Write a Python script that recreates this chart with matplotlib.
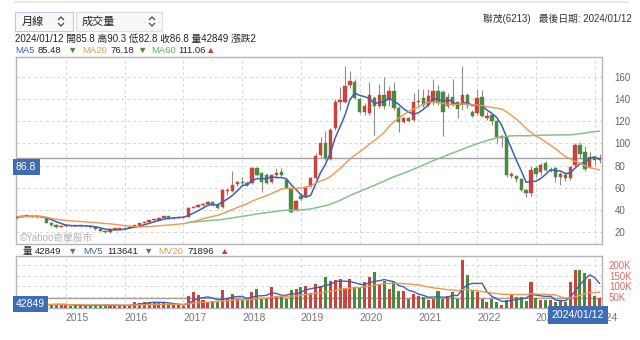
import numpy as np
import pandas as pd
import matplotlib
matplotlib.use("Agg")
import matplotlib.pyplot as plt
from matplotlib.patches import Rectangle
from matplotlib.lines import Line2D

plt.rcParams['font.family'] = ['Liberation Sans', 'Noto Sans CJK TC', 'DejaVu Sans']

W, H = 640, 340

# 聯茂(6213) monthly candles, 2014-02 .. 2024-01
years = [str(y) for y in range(2015, 2025)]
opens = [
    32.5, 34.0, 34.5, 35.0, 34.0, 34.2, 33.5, 28.5, 27.0, 25.0,
    26.0, 26.2, 26.0, 25.8, 26.0, 25.4, 24.5, 23.0, 21.5, 20.0,
    23.0, 23.3, 23.5, 24.2, 25.2, 26.8, 28.3, 29.5, 31.0, 31.3,
    33.0, 34.5, 32.5, 33.3, 33.5, 34.0, 42.0, 43.2, 44.5, 45.2,
    47.0, 45.0, 43.0, 57.5, 57.0, 63.5, 65.5, 64.5, 64.0, 77.5,
    73.0, 71.5, 65.5, 72.0, 74.5, 67.0, 59.5, 40.0, 53.0, 52.3,
    61.5, 68.5, 89.5, 100.0, 86.0, 113.5, 137.5, 137.5, 153.0, 155.0,
    140.0, 128.0, 127.5, 141.0, 134.0, 143.5, 139.0, 147.0, 132.0, 119.0,
    123.0, 121.0, 137.0, 141.0, 134.5, 137.0, 147.0, 146.0, 134.0, 141.5,
    137.0, 135.5, 144.0, 128.0, 127.0, 141.5, 122.5, 126.0, 120.0, 104.5,
    106.0, 71.0, 71.0, 68.0, 58.0, 55.0, 77.5, 74.0, 82.5, 75.5,
    78.0, 70.0, 71.5, 69.0, 80.5, 99.0, 92.0, 79.0, 87.5, 85.8,
]
highs = [
    34.5, 35.0, 36.0, 35.5, 34.8, 34.6, 34.0, 29.0, 27.5, 26.5,
    26.8, 26.8, 26.5, 26.5, 26.4, 25.8, 24.8, 23.5, 22.0, 23.5,
    23.8, 24.0, 24.5, 25.5, 27.0, 28.5, 30.0, 31.5, 31.8, 33.5,
    35.0, 35.0, 34.0, 34.0, 34.5, 42.5, 44.0, 45.5, 46.0, 48.5,
    47.8, 46.5, 59.0, 59.5, 75.0, 66.5, 69.5, 66.0, 78.5, 79.0,
    74.0, 73.0, 72.5, 77.5, 77.5, 68.5, 60.0, 49.5, 55.0, 61.0,
    70.0, 91.0, 106.0, 111.0, 114.0, 140.0, 150.5, 170.0, 165.5, 158.0,
    141.0, 136.0, 155.0, 143.0, 153.5, 160.0, 152.0, 155.0, 134.0, 124.0,
    124.0, 145.0, 149.0, 149.0, 149.0, 158.0, 153.0, 148.0, 145.0, 158.0,
    138.0, 170.0, 145.0, 130.0, 149.0, 148.0, 128.0, 127.0, 121.0, 108.0,
    107.0, 74.0, 72.0, 69.0, 59.0, 80.0, 80.0, 82.5, 84.0, 79.0,
    79.0, 74.0, 74.0, 80.0, 100.0, 101.0, 98.0, 92.0, 89.0, 90.3,
]
lows = [
    32.0, 33.5, 34.0, 33.5, 33.0, 33.0, 28.0, 26.0, 24.0, 24.5,
    25.0, 25.5, 25.3, 25.2, 25.0, 24.0, 22.5, 21.0, 19.0, 19.5,
    22.5, 22.8, 23.0, 23.8, 25.0, 26.5, 28.0, 29.0, 30.2, 31.0,
    32.5, 32.3, 32.0, 32.8, 33.0, 33.8, 41.5, 42.8, 43.8, 44.8,
    43.5, 41.0, 42.0, 53.5, 56.0, 62.0, 63.0, 61.5, 63.5, 70.5,
    56.0, 63.5, 64.0, 70.0, 70.5, 59.0, 37.5, 39.0, 49.0, 51.5,
    60.5, 68.0, 88.0, 85.0, 85.0, 112.0, 130.0, 136.0, 150.0, 140.0,
    127.0, 126.0, 126.0, 108.0, 132.0, 131.0, 134.0, 130.0, 110.0, 118.0,
    119.5, 120.0, 134.0, 133.0, 133.0, 135.0, 135.0, 107.0, 132.0, 134.0,
    123.0, 130.0, 132.0, 124.0, 126.0, 124.0, 121.0, 117.0, 100.0, 97.0,
    70.0, 69.0, 65.0, 57.0, 52.0, 53.0, 70.0, 72.0, 75.0, 74.0,
    65.0, 63.0, 66.0, 67.0, 79.0, 86.0, 75.0, 78.0, 80.5, 82.8,
]
closes = [
    34.0, 34.5, 35.0, 34.0, 34.2, 33.5, 28.5, 27.0, 25.0, 26.0,
    26.2, 26.0, 25.8, 26.0, 25.4, 24.5, 23.0, 21.5, 20.0, 23.0,
    23.3, 23.5, 24.2, 25.2, 26.8, 28.3, 29.5, 31.0, 31.3, 33.0,
    34.5, 32.5, 33.3, 33.5, 34.0, 42.0, 43.2, 44.5, 45.2, 47.5,
    44.5, 41.8, 58.0, 58.5, 63.0, 65.5, 64.5, 62.5, 77.5, 71.5,
    65.5, 64.5, 71.5, 73.0, 72.0, 60.0, 38.5, 48.5, 50.0, 60.7,
    69.0, 89.0, 100.0, 86.5, 112.0, 137.5, 139.5, 151.5, 156.0, 141.0,
    128.5, 133.5, 143.5, 134.0, 144.0, 134.0, 147.0, 132.0, 119.0, 123.0,
    120.5, 137.0, 138.5, 134.5, 143.0, 147.5, 136.0, 128.0, 141.5, 135.0,
    131.0, 144.0, 134.5, 125.0, 141.0, 125.0, 124.5, 120.0, 106.0, 107.0,
    71.5, 72.5, 68.0, 58.0, 55.0, 76.0, 72.5, 81.0, 76.5, 76.5,
    70.0, 72.5, 68.7, 79.0, 98.5, 90.5, 77.3, 88.0, 84.8, 86.8,
]
# monthly volume, thousand lots
volumes = [
    12, 14, 16, 11, 13, 10, 18, 15, 17, 12,
    10, 9, 11, 8, 9, 10, 12, 11, 13, 9,
    8, 9, 10, 12, 25, 22, 24, 26, 27, 23,
    20, 12, 10, 11, 9, 56, 73, 61, 33, 25,
    30, 30, 84, 38, 64, 41, 34, 35, 72, 89,
    45, 45, 96, 53, 50, 42, 84, 89, 95, 103,
    69, 110, 100, 141, 123, 127, 134, 92, 134, 95,
    95, 118, 141, 166, 107, 126, 89, 118, 76, 76,
    42, 64, 56, 48, 33, 42, 76, 42, 53, 72,
    38, 223, 151, 81, 72, 42, 25, 41, 25, 14,
    35, 57.72, 50, 48, 30, 118, 45, 33, 33, 36,
    28, 33, 28, 120, 175, 178, 160, 135, 52.355, 42.849,
]

RED = "#c9443b"
GREEN = "#4a8a3e"
BLUE = "#3d5fb6"
ORANGE = "#f0964e"
LGREEN = "#86c286"
GRID = "#d6d6d6"

o = np.array(opens); h = np.array(highs); l = np.array(lows); c = np.array(closes)
v = np.array(volumes) * 1000
xs = np.arange(len(c))
up = c >= o
colors = np.where(up, RED, GREEN)

px = pd.Series(c)
ma5 = px.rolling(5, min_periods=1).mean()
ma20 = px.rolling(20, min_periods=1).mean()
ma60 = px.rolling(60, min_periods=1).mean()
vs = pd.Series(v)
mv5 = vs.rolling(5, min_periods=1).mean()
mv20 = vs.rolling(20, min_periods=1).mean()


def fx(x):
    return x / W


def fy(y):
    return 1 - y / H


fig = plt.figure(figsize=(W / 100, H / 100), dpi=100)
fig.patch.set_facecolor("white")

ax = fig.add_axes([fx(16), fy(244), (602 - 16) / W, (244 - 57) / H])
axv = fig.add_axes([fx(16), fy(307.5), (602 - 16) / W, (307.5 - 256) / H])

year_pos = [10 + 12 * k for k in range(len(years))]

for a in (ax, axv):
    a.set_xlim(-0.2, 119.5)
    a.set_xticks(year_pos)
    a.grid(True, color=GRID, ls=(0, (3, 3)), lw=0.7)
    a.set_axisbelow(True)
    for s in a.spines.values():
        s.set_color("#b5b5b5")
        s.set_linewidth(1.0)
    a.yaxis.tick_right()
    a.tick_params(length=0)

# price panel
ax.vlines(xs, l, h, color="#8c8c8c", lw=0.8, zorder=2)
ax.bar(xs, np.maximum(np.abs(c - o), 0.7), bottom=np.minimum(o, c), width=0.68,
       color=colors, edgecolor=colors, lw=0.3, zorder=3)
ax.plot(xs, ma5, color=BLUE, lw=1.1, zorder=4)
ax.plot(xs, ma20, color=ORANGE, lw=1.0, zorder=4)
ax.plot(xs[35:], ma60[35:], color=LGREEN, lw=1.1, zorder=4)
ax.axhline(c[-1], color="#a3a3a3", lw=1.0, zorder=1)
ax.set_ylim(9.5, 177.8)
ax.set_yticks(range(20, 161, 20))
ax.tick_params(axis="y", labelsize=7, labelcolor="#666666", pad=9)
ax.set_xticklabels([])
ax.text(0.0, c[-1] - 3.2, f"{c[-1]:.1f}", transform=ax.get_yaxis_transform(),
        ha="left", va="top", fontsize=7.5, color="white", zorder=6,
        bbox=dict(boxstyle="square,pad=0.3", fc="#3f6db4", ec="none"))
ax.text(0.007, 0.035, "©Yahoo奇摩股市", transform=ax.transAxes, fontsize=7,
        color="#b3b3b3", ha="left", va="center", zorder=5)

# volume panel
axv.bar(xs, v, width=0.62, color=colors, zorder=3)
axv.plot(xs, mv5, color=BLUE, lw=1.0, zorder=4)
axv.plot(xs, mv20, color=ORANGE, lw=1.0, zorder=4)
axv.axhline(v[-1], color="#a3a3a3", lw=1.0, zorder=2)
axv.set_ylim(0, 242000)
axv.set_yticks([50000, 100000, 150000, 200000])
axv.set_yticklabels(["50K", "100K", "150K", "200K"])
axv.tick_params(axis="y", labelsize=7, labelcolor="#e06a62", pad=5)
axv.set_xticklabels(years)
axv.tick_params(axis="x", labelsize=7.5, labelcolor="#777777", pad=4)
for t in axv.get_xticklabels():
    t.set_ha("left")
axv.text(0.0, v[-1] - 2000, f"{int(v[-1])}", transform=axv.get_yaxis_transform(),
         ha="left", va="top", fontsize=7.5, color="white", zorder=6, clip_on=False,
         bbox=dict(boxstyle="square,pad=0.3", fc="#3f6db4", ec="none"))

# last date tag on the x axis
fig.text(fx(578), fy(315), "2024/01/12", ha="center", va="center", fontsize=7.5,
         color="white", zorder=10,
         bbox=dict(boxstyle="square,pad=0.35", fc="#3f6db4", ec="none"))

# top bar: selectors
fig.add_artist(Line2D([fx(15), fx(628)], [fy(2), fy(2)], color="#e8e8e8", lw=1.5))
fig.add_artist(Rectangle((fx(15), fy(31)), 58 / W, 19 / H, fc="#f8f8f8",
                         ec="#bccbe0", lw=0.8))
fig.add_artist(Rectangle((fx(76), fy(31)), 86 / W, 19 / H, fc="#f8f8f8",
                         ec="#dcdcdc", lw=0.8))
fig.text(fx(22), fy(21.5), "月線", fontsize=8, va="center", ha="left", color="#222222")
fig.text(fx(82), fy(21.5), "成交量", fontsize=8, va="center", ha="left", color="#222222")
for cx in (61, 152):
    fig.add_artist(Line2D([fx(cx - 2.5), fx(cx), fx(cx + 2.5)],
                          [fy(19.5), fy(17), fy(19.5)], color="#444444", lw=0.9))
    fig.add_artist(Line2D([fx(cx - 2.5), fx(cx), fx(cx + 2.5)],
                          [fy(23.5), fy(26), fy(23.5)], color="#444444", lw=0.9))

fig.text(fx(632), fy(18.5), "聯茂(6213)   最後日期: 2024/01/12", fontsize=7,
         ha="right", va="center", color="#333333")
fig.text(fx(15), fy(38.5), "2024/01/12 開85.8 高90.3 低82.8 收86.8 量42849 漲跌2",
         fontsize=7, ha="left", va="center", color="#222222")

# indicator legends
def legend_row(y, items):
    for x, s, col in items:
        fig.text(fx(x), fy(y), s, fontsize=6.8, ha="left", va="center", color=col)


legend_row(50.5, [
    (15.5, "MA5", BLUE), (38, f"{ma5.iloc[-1]:.2f}", "#222222"), (67, "▼", GREEN),
    (82, "MA20", ORANGE), (110, f"{ma20.iloc[-1]:.2f}", "#222222"), (137, "▼", GREEN),
    (151, "MA60", "#5fae5f"), (178, f"{ma60.iloc[-1]:.2f}", "#222222"), (205, "▲", RED),
])
legend_row(251.5, [
    (23, "量", "#222222"), (35, f"{int(v[-1])}", "#222222"), (67, "▼", GREEN),
    (83, "MV5", BLUE), (107, f"{mv5.iloc[-1]:.0f}", "#222222"), (143, "▼", GREEN),
    (158, "MV20", ORANGE), (187, f"{mv20.iloc[-1]:.0f}", "#222222"), (219, "▲", RED),
])

fig.savefig("out.png", dpi=100, facecolor="white")
